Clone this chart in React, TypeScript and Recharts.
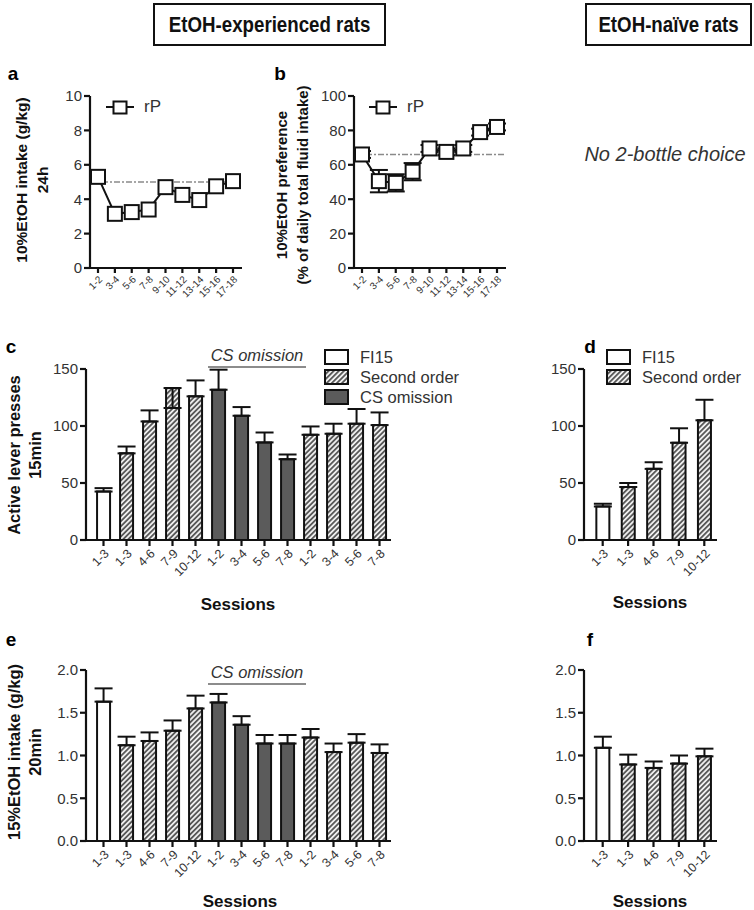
import React from 'react';
import { LineChart, Line, BarChart, Bar, Cell, XAxis, YAxis, ReferenceLine, ErrorBar } from 'recharts';

const FONT = 'Arial, "Liberation Sans", Helvetica, sans-serif';
const INK = '#111';
const TICK = '#333';

// a, b: 24h two-bottle choice, pairs of days
const dayPairs = ['1-2', '3-4', '5-6', '7-8', '9-10', '11-12', '13-14', '15-16', '17-18'];
const intake24h = [5.3, 3.15, 3.25, 3.4, 4.7, 4.25, 3.95, 4.75, 5.05];
const intakeBaseline = 5;
const preference = [66, 50.5, 49.5, 56, 69.5, 67.5, 69.5, 79, 82];
const preferenceErr = [2, 6.5, 5, 5, 2, 2, 2, 2, 2];
const preferenceBaseline = 66;

// c, e: EtOH-experienced rats
const expSessions = ['1-3', '1-3', '4-6', '7-9', '10-12', '1-2', '3-4', '5-6', '7-8', '1-2', '3-4', '5-6', '7-8'];
const expPhase = ['FI15', 'Second order', 'Second order', 'Second order', 'Second order',
  'CS omission', 'CS omission', 'CS omission', 'CS omission',
  'Second order', 'Second order', 'Second order', 'Second order'];
const expPresses = [42.5, 76, 104, 133.3, 126, 131.8, 109, 85.6, 70.9, 92.3, 93.2, 102, 100.8];
const expPressesErrLow = [0, 0, 0, 17.5, 0, 0, 0, 0, 0, 0, 0, 0, 0];
const expPressesErrHigh = [3, 6, 9.7, 0, 14, 17.6, 7.6, 8.7, 4.1, 7.3, 8.8, 12.9, 11.1];
const expIntake = [1.63, 1.12, 1.17, 1.29, 1.55, 1.62, 1.36, 1.14, 1.14, 1.21, 1.04, 1.15, 1.03];
const expIntakeErr = [0.155, 0.1, 0.1, 0.12, 0.15, 0.1, 0.1, 0.1, 0.1, 0.1, 0.1, 0.1, 0.1];

// d, f: EtOH-naive rats
const naiveSessions = ['1-3', '1-3', '4-6', '7-9', '10-12'];
const naivePhase = ['FI15', 'Second order', 'Second order', 'Second order', 'Second order'];
const naivePresses = [29.4, 46.5, 62.4, 85.3, 105];
const naivePressesErr = [2.4, 3.5, 5.8, 12.7, 18];
const naiveIntake = [1.09, 0.895, 0.855, 0.905, 0.99];
const naiveIntakeErr = [0.13, 0.115, 0.075, 0.095, 0.09];

const pressTicks = [0, 50, 100, 150];
const intakeTicks = [0, 0.5, 1, 1.5, 2];
const intake24hTicks = [0, 2, 4, 6, 8, 10];
const prefTicks = [0, 20, 40, 60, 80, 100];

const axisLine = { stroke: INK, strokeWidth: 2.2 };

const phaseFill = (phase: string, hatchId: string) =>
  phase === 'FI15' ? '#ffffff' : phase === 'CS omission' ? '#5b5b5b' : `url(#${hatchId})`;

const Hatch = ({ id }: { id: string }) => (
  <pattern id={id} patternUnits="userSpaceOnUse" width={3.6} height={3.6} patternTransform="rotate(45)">
    <rect width={3.6} height={3.6} fill="#eeeeee" />
    <line x1={1.8} y1={0} x2={1.8} y2={3.6} stroke="#2e2e2e" strokeWidth={1.4} />
  </pattern>
);

const SquareDot = (props: any) => {
  const { cx, cy } = props;
  if (cx == null || cy == null) return <g />;
  return <rect x={cx - 7} y={cy - 7} width={14} height={14} fill="#fff" stroke={INK} strokeWidth={2} />;
};

function Abs({ x, y, children, style }: { x: number; y: number; children: React.ReactNode; style?: React.CSSProperties }) {
  return (
    <div style={{ position: 'absolute', left: x, top: y, transform: 'translate(-50%, -50%)', whiteSpace: 'nowrap', ...style }}>
      {children}
    </div>
  );
}

function YLabel({ x, y, lines, size }: { x: number; y: number; lines: string[]; size: number }) {
  return (
    <div style={{
      position: 'absolute', left: x, top: y, transform: 'translate(-50%, -50%) rotate(-90deg)',
      whiteSpace: 'nowrap', fontWeight: 'bold', fontSize: size, lineHeight: '21px', textAlign: 'center', color: INK,
    }}>
      {lines.map((l) => <div key={l}>{l}</div>)}
    </div>
  );
}

function HeaderBox({ left, width, text }: { left: number; width: number; text: string }) {
  return (
    <div style={{
      position: 'absolute', left, top: 3, width, height: 43, boxSizing: 'border-box', border: `2px solid ${INK}`,
      display: 'flex', alignItems: 'center', justifyContent: 'center',
    }}>
      <span style={{ display: 'inline-block', fontWeight: 'bold', fontSize: 22, transform: 'scaleX(0.85)', whiteSpace: 'nowrap', color: INK }}>
        {text}
      </span>
    </div>
  );
}

function LinePanel({ left, yWidth, width, values, errs, domain, ticks, baseline }: {
  left: number; yWidth: number; width: number; values: number[]; errs?: number[];
  domain: [number, number]; ticks: number[]; baseline: number;
}) {
  const data = dayPairs.map((s, i) => ({ session: s, value: values[i], err: errs ? errs[i] : 0 }));
  return (
    <div style={{ position: 'absolute', left, top: 80 }}>
      <LineChart width={width} height={230} data={data} margin={{ top: 16, right: width - yWidth - 152, bottom: 2, left: 0 }}>
        <XAxis dataKey="session" interval={0} angle={-45} textAnchor="end" height={40} stroke={INK}
          tick={{ fontSize: 10, fill: TICK, fontFamily: FONT }} axisLine={axisLine} tickLine={axisLine} tickSize={5}
          padding={{ left: 8, right: 9 }} />
        <YAxis width={yWidth} domain={domain} ticks={ticks} interval={0} stroke={INK}
          tick={{ fontSize: 15, fill: TICK, fontFamily: FONT }} axisLine={axisLine} tickLine={axisLine} tickSize={6} />
        <ReferenceLine y={baseline} stroke="#8a8a8a" strokeWidth={1.3} strokeDasharray="6 2 2 2" />
        <Line dataKey="value" stroke={INK} strokeWidth={2} dot={SquareDot} activeDot={false} isAnimationActive={false}>
          {errs && <ErrorBar dataKey="err" width={9} stroke={INK} strokeWidth={2} direction="y" />}
        </Line>
      </LineChart>
    </div>
  );
}

function BarPanel({ left, top, width, height, yWidth, plotRight, sessions, phases, values, errLow, errHigh,
  domain, ticks, decimals, gap, hatchId }: {
  left: number; top: number; width: number; height: number; yWidth: number; plotRight: number;
  sessions: string[]; phases: string[]; values: number[]; errLow: number[]; errHigh: number[];
  domain: [number, number]; ticks: number[]; decimals: number; gap: string; hatchId: string;
}) {
  const data = sessions.map((s, i) => ({ key: `${s}#${i}`, session: s, value: values[i], err: [errLow[i], errHigh[i]] }));
  return (
    <div style={{ position: 'absolute', left, top }}>
      <BarChart width={width} height={height} data={data} barCategoryGap={gap}
        margin={{ top: 40, right: width - plotRight, bottom: 0, left: 0 }}>
        <defs>
          <Hatch id={hatchId} />
        </defs>
        <XAxis dataKey="key" interval={0} angle={-45} textAnchor="end" height={60} stroke={INK}
          tickFormatter={(k: string) => k.split('#')[0]}
          tick={{ fontSize: 12.5, fill: TICK, fontFamily: FONT }} axisLine={axisLine} tickLine={axisLine} tickSize={6}
          padding={{ left: 6, right: 0 }} />
        <YAxis width={yWidth} domain={domain} ticks={ticks} interval={0} stroke={INK}
          tickFormatter={(v: number) => v.toFixed(decimals)}
          tick={{ fontSize: 15, fill: TICK, fontFamily: FONT }} axisLine={axisLine} tickLine={axisLine} tickSize={6} />
        <Bar dataKey="value" stroke={INK} strokeWidth={2} isAnimationActive={false}>
          {data.map((d, i) => <Cell key={d.key} fill={phaseFill(phases[i], hatchId)} />)}
          <ErrorBar dataKey="err" width={9} stroke={INK} strokeWidth={2} direction="y" />
        </Bar>
      </BarChart>
    </div>
  );
}

function LegendRows({ x, y, items, hatchId }: { x: number; y: number; items: string[]; hatchId: string }) {
  return (
    <div style={{ position: 'absolute', left: x, top: y }}>
      {items.map((name) => (
        <div key={name} style={{ display: 'flex', alignItems: 'center', height: 20 }}>
          <svg width={26} height={18} style={{ display: 'block' }}>
            <defs><Hatch id={`${hatchId}-${name.replace(/\s/g, '')}`} /></defs>
            <rect x={1} y={2} width={23} height={14} stroke={INK} strokeWidth={2}
              fill={name === 'Second order' ? `url(#${hatchId}-Secondorder)` : phaseFill(name, hatchId)} />
          </svg>
          <span style={{ marginLeft: 10, fontSize: 16.5, color: TICK }}>{name}</span>
        </div>
      ))}
    </div>
  );
}

function Omission({ x, y, w }: { x: number; y: number; w: number }) {
  return (
    <div style={{ position: 'absolute', left: x, top: y, width: w, textAlign: 'center' }}>
      <div style={{ fontStyle: 'italic', fontSize: 16.5, color: TICK, lineHeight: '17px' }}>CS omission</div>
      <div style={{ height: 2, background: '#8c8c8c', margin: '2px 4px 0 4px' }} />
    </div>
  );
}

const RpLegend = ({ x }: { x: number }) => (
  <div style={{ position: 'absolute', left: x, top: 97, display: 'flex', alignItems: 'center' }}>
    <svg width={28} height={20} style={{ display: 'block' }}>
      <line x1={0} y1={10} x2={28} y2={10} stroke={INK} strokeWidth={2} />
      <rect x={7.5} y={4.5} width={13} height={12} fill="#fff" stroke={INK} strokeWidth={2} />
    </svg>
    <span style={{ marginLeft: 10, fontSize: 17, color: TICK }}>rP</span>
  </div>
);

export default function App() {
  return (
    <div style={{ position: 'absolute', left: 0, top: 0, width: 754, height: 910, background: '#fff', fontFamily: FONT, overflow: 'hidden' }}>
      <HeaderBox left={153} width={233} text="EtOH-experienced rats" />
      <HeaderBox left={585} width={167} text="EtOH-naïve rats" />

      <Abs x={13} y={74} style={{ fontWeight: 'bold', fontSize: 19 }}>a</Abs>
      <Abs x={280} y={74} style={{ fontWeight: 'bold', fontSize: 19 }}>b</Abs>
      <Abs x={11} y={347} style={{ fontWeight: 'bold', fontSize: 19 }}>c</Abs>
      <Abs x={590} y={347} style={{ fontWeight: 'bold', fontSize: 19 }}>d</Abs>
      <Abs x={11} y={640} style={{ fontWeight: 'bold', fontSize: 19 }}>e</Abs>
      <Abs x={590} y={640} style={{ fontWeight: 'bold', fontSize: 19 }}>f</Abs>

      <LinePanel left={0} yWidth={90} width={262} values={intake24h} domain={[0, 10]} ticks={intake24hTicks} baseline={intakeBaseline} />
      <YLabel x={32} y={180} size={15.5} lines={['10%EtOH intake (g/kg)', '24h']} />
      <RpLegend x={106} />

      <LinePanel left={263} yWidth={91} width={262} values={preference} errs={preferenceErr} domain={[0, 100]} ticks={prefTicks} baseline={preferenceBaseline} />
      <YLabel x={292} y={185} size={15} lines={['10%EtOH preference', '(% of daily total fluid intake)']} />
      <RpLegend x={369} />

      <Abs x={665} y={154} style={{ fontStyle: 'italic', fontSize: 20, color: TICK }}>No 2-bottle choice</Abs>

      <BarPanel left={0} top={329} width={400} height={271} yWidth={86} plotRight={391}
        sessions={expSessions} phases={expPhase} values={expPresses} errLow={expPressesErrLow} errHigh={expPressesErrHigh}
        domain={[0, 150]} ticks={pressTicks} decimals={0} gap="22%" hatchId="hatch-c" />
      <YLabel x={25} y={455} size={16.5} lines={['Active lever presses', '15min']} />
      <Omission x={204} y={347} w={106} />
      <LegendRows x={324} y={347} items={['FI15', 'Second order', 'CS omission']} hatchId="lg-c" />
      <Abs x={238} y={605} style={{ fontWeight: 'bold', fontSize: 17, color: INK }}>Sessions</Abs>

      <BarPanel left={500} top={329} width={240} height={271} yWidth={84} plotRight={217}
        sessions={naiveSessions} phases={naivePhase} values={naivePresses} errLow={naiveSessions.map(() => 0)} errHigh={naivePressesErr}
        domain={[0, 150]} ticks={pressTicks} decimals={0} gap="25%" hatchId="hatch-d" />
      <LegendRows x={606} y={347} items={['FI15', 'Second order']} hatchId="lg-d" />
      <Abs x={650} y={603} style={{ fontWeight: 'bold', fontSize: 17, color: INK }}>Sessions</Abs>

      <BarPanel left={0} top={630} width={400} height={271} yWidth={86} plotRight={391}
        sessions={expSessions} phases={expPhase} values={expIntake} errLow={expSessions.map(() => 0)} errHigh={expIntakeErr}
        domain={[0, 2]} ticks={intakeTicks} decimals={1} gap="22%" hatchId="hatch-e" />
      <YLabel x={25} y={752} size={16.5} lines={['15%EtOH intake (g/kg)', '20min']} />
      <Omission x={204} y={664} w={106} />
      <Abs x={240} y={902} style={{ fontWeight: 'bold', fontSize: 17, color: INK }}>Sessions</Abs>

      <BarPanel left={500} top={630} width={240} height={271} yWidth={84} plotRight={217}
        sessions={naiveSessions} phases={naivePhase} values={naiveIntake} errLow={naiveSessions.map(() => 0)} errHigh={naiveIntakeErr}
        domain={[0, 2]} ticks={intakeTicks} decimals={1} gap="25%" hatchId="hatch-f" />
      <Abs x={650} y={902} style={{ fontWeight: 'bold', fontSize: 17, color: INK }}>Sessions</Abs>
    </div>
  );
}
